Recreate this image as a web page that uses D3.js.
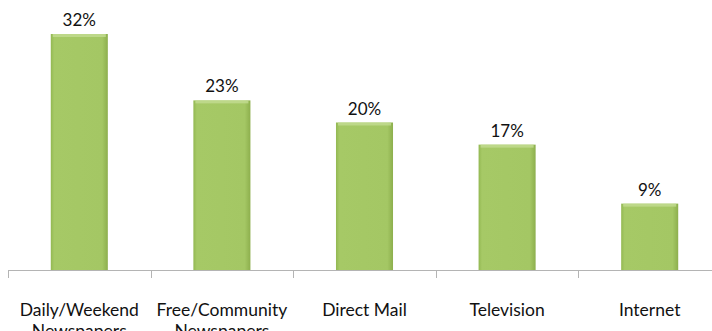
<!DOCTYPE html>
<html>
<head>
<meta charset="utf-8">
<script src="https://cdn.jsdelivr.net/npm/d3@7"></script>
<style>
  body { margin: 0; background: #fff; overflow: hidden; }
  svg { display: block; }
</style>
</head>
<body>
<div id="chart"></div>
<script>
// datos
let categorias = [["Daily/Weekend", "Newspapers"], ["Free/Community", "Newspapers"], ["Direct Mail"], ["Television"], ["Internet"]]
let valores = [32, 23, 20, 17, 9]

let width = 712
let height = 331
let base = 270

let svg = d3.select("#chart").append("svg")
    .attr("width", width).attr("height", height)

let defs = svg.append("defs")
let grad = defs.append("linearGradient").attr("id", "verde")
    .attr("x1", 0).attr("x2", 1).attr("y1", 0).attr("y2", 0)
grad.append("stop").attr("offset", "0%").attr("stop-color", "#93b852")
grad.append("stop").attr("offset", "6%").attr("stop-color", "#a6c966")
grad.append("stop").attr("offset", "90%").attr("stop-color", "#a4c764")
grad.append("stop").attr("offset", "100%").attr("stop-color", "#8daf4d")

let x = d3.scaleBand()
    .domain(d3.range(valores.length))
    .range([8, 8 + 142.6 * valores.length])
    .paddingInner(0.6)
    .paddingOuter(0.3)

let y = d3.scaleLinear()
    .domain([0, 32])
    .range([base, 34])

// eje
let step = x.step()
svg.append("line")
    .attr("x1", 8).attr("x2", width)
    .attr("y1", base + 0.5).attr("y2", base + 0.5)
    .attr("stroke", "#b4b4b4")
for (let i = 0; i < valores.length; i++) {
    let tx = Math.round(8 + i * step) + 0.5
    svg.append("line")
        .attr("x1", tx).attr("x2", tx)
        .attr("y1", base).attr("y2", base + 8)
        .attr("stroke", "#b4b4b4")
}

// barras
let barras = svg.append("g").selectAll("g")
    .data(valores)
    .enter().append("g")

barras.append("rect")
    .attr("x", (d, i) => x(i))
    .attr("y", d => y(d))
    .attr("width", x.bandwidth())
    .attr("height", d => base - y(d))
    .attr("fill", "url(#verde)")

// brillo arriba
barras.append("rect")
    .attr("x", (d, i) => x(i) + 2)
    .attr("y", d => y(d))
    .attr("width", x.bandwidth() - 4)
    .attr("height", 3)
    .attr("fill", "#c3dc92")
    .attr("opacity", 0.8)

barras.append("text")
    .attr("x", (d, i) => x(i) + x.bandwidth() / 2)
    .attr("y", d => y(d) - 8)
    .attr("text-anchor", "middle")
    .style("font-family", "Lato, 'Open Sans', sans-serif")
    .style("font-size", "17px")
    .attr("fill", "#111")
    .text(d => d + "%")

// etiquetas
let etiquetas = svg.append("g").selectAll("text")
    .data(categorias)
    .enter().append("text")
    .attr("x", (d, i) => x(i) + x.bandwidth() / 2)
    .attr("y", 316)
    .attr("text-anchor", "middle")
    .style("font-family", "Lato, 'Open Sans', sans-serif")
    .style("font-size", "17.5px")
    .attr("fill", "#111")

etiquetas.selectAll("tspan")
    .data(d => d)
    .enter().append("tspan")
    .attr("x", function () { return d3.select(this.parentNode).attr("x") })
    .attr("dy", (d, j) => j === 0 ? 0 : 21)
    .text(d => d)
</script>
</body>
</html>
